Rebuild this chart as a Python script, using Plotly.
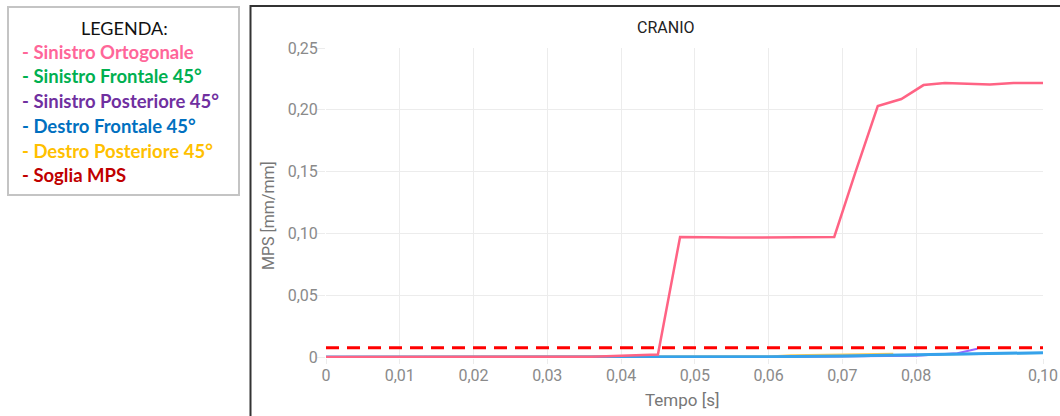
import plotly.graph_objects as go

# ---- data ---------------------------------------------------------------
t_sin_ortogonale = [0, 0.01, 0.02, 0.03, 0.036, 0.045, 0.048, 0.055, 0.062, 0.0689,
                    0.0718, 0.0748, 0.078, 0.081, 0.0839, 0.090, 0.0932, 0.0972]
mps_sin_ortogonale = [0, 0, 0, 0, 0.0003, 0.002, 0.0971, 0.0966, 0.0968, 0.0971,
                      0.150, 0.203, 0.2087, 0.220, 0.2217, 0.2205, 0.2217, 0.2217]

t_sin_frontale = [0, 0.02, 0.04, 0.06, 0.07, 0.08, 0.09, 0.0972]
mps_sin_frontale = [0, 0, 0, 0, 0.0005, 0.0015, 0.0028, 0.0033]

t_sin_posteriore = [0, 0.02, 0.04, 0.06, 0.08, 0.0856, 0.0883]
mps_sin_posteriore = [0, 0, 0, 0, 0.001, 0.003, 0.0067]

t_des_frontale = [0, 0.02, 0.04, 0.06, 0.07, 0.08, 0.09, 0.0972]
mps_des_frontale = [0, 0, 0, 0.0002, 0.0008, 0.0018, 0.003, 0.0035]

t_des_posteriore = [0, 0.02, 0.04, 0.06, 0.063, 0.07, 0.0769]
mps_des_posteriore = [0, 0, 0, 0.0005, 0.0015, 0.002, 0.0027]

soglia_mps = 0.0075
t_soglia = [0, 0.0972]

x_tick_vals = [0, 0.01, 0.02, 0.03, 0.04, 0.05, 0.06, 0.07, 0.08, 0.0972]
x_tick_text = ["0", "0,01", "0,02", "0,03", "0,04", "0,05", "0,06", "0,07", "0,08", "0,10"]
y_tick_vals = [0, 0.05, 0.10, 0.15, 0.20, 0.25]
y_tick_text = ["0", "0,05", "0,10", "0,15", "0,20", "0,25"]

legend_title = "LEGENDA:"
legend_items = ["- Sinistro Ortogonale", "- Sinistro Frontale 45°",
                "- Sinistro Posteriore 45°", "- Destro Frontale 45°",
                "- Destro Posteriore 45°", "- Soglia MPS"]
legend_colors = ["#FF6699", "#00B050", "#7030A0", "#0070C0", "#FFC000", "#C00000"]

# ---- page geometry (pixels) --------------------------------------------
W, H = 1060, 416
PL, PR, PT, PB = 326, 1043, 48, 358     # plot area edges
Y_MIN, Y_MAX = -0.0008, 0.25


def px_x(px):
    return (px - PL) / (PR - PL)


def px_y(py):
    return (PB - py) / (PB - PT)


fig = go.Figure()

# drawing order: lower series first so the blue and pink lines sit on top at zero
series = [
    (t_sin_frontale, mps_sin_frontale, "rgba(75,192,192,0.8)", 2, "Sinistro Frontale 45°"),
    (t_des_posteriore, mps_des_posteriore, "rgb(255,205,86)", 2, "Destro Posteriore 45°"),
    (t_sin_posteriore, mps_sin_posteriore, "rgb(153,102,255)", 2, "Sinistro Posteriore 45°"),
    (t_des_frontale, mps_des_frontale, "rgb(54,162,235)", 3, "Destro Frontale 45°"),
    (t_sin_ortogonale, mps_sin_ortogonale, "rgb(255,99,132)", 2.5, "Sinistro Ortogonale"),
]
for xs, ys, col, w, name in series:
    fig.add_trace(go.Scatter(x=xs, y=ys, mode="lines", name=name,
                             line=dict(color=col, width=w)))

fig.add_trace(go.Scatter(x=t_soglia, y=[soglia_mps] * len(t_soglia), mode="lines",
                         name="Soglia MPS",
                         line=dict(color="rgb(255,0,0)", width=3, dash="13px,8px")))

grid = "#ececec"
tick_font = dict(family="Roboto", size=16, color="#8a8a8a")

fig.update_layout(
    width=W, height=H,
    margin=dict(l=PL, r=W - PR, t=PT, b=H - PB, autoexpand=False),
    paper_bgcolor="white", plot_bgcolor="white",
    showlegend=False,
    separators=",.",
    xaxis=dict(range=[0, x_tick_vals[-1]], tickvals=x_tick_vals, ticktext=x_tick_text,
               showgrid=True, gridcolor=grid, gridwidth=1, zeroline=False,
               ticks="outside", ticklen=5, tickcolor=grid, showline=False,
               automargin=False, ticklabelstandoff=-2, tickfont=tick_font),
    yaxis=dict(range=[Y_MIN, Y_MAX], tickvals=y_tick_vals, ticktext=y_tick_text,
               showgrid=True, gridcolor=grid, gridwidth=1, zeroline=False,
               ticks="outside", ticklen=8, tickcolor=grid, showline=False,
               automargin=False, ticklabelstandoff=-4, tickfont=tick_font),
)

annotations = [
    dict(text="CRANIO", x=px_x(665), y=px_y(27), xref="paper", yref="paper",
         showarrow=False, font=dict(family="Roboto", size=16, color="#222"),
         xanchor="center", yanchor="middle"),
    dict(text="Tempo [s]", x=px_x(682), y=px_y(400), xref="paper", yref="paper",
         showarrow=False, font=dict(family="Roboto", size=17, color="#777"),
         xanchor="center", yanchor="middle"),
    dict(text="MPS [mm/mm]", x=px_x(268), y=px_y(216), xref="paper", yref="paper",
         showarrow=False, textangle=-90, font=dict(family="Roboto", size=16, color="#777"),
         xanchor="center", yanchor="middle"),
    dict(text=legend_title, x=px_x(124), y=px_y(28), xref="paper", yref="paper",
         showarrow=False, font=dict(family="Lato", size=18, color="#111"),
         xanchor="center", yanchor="middle"),
]
legend_rows_y = [52, 76, 101, 126, 151, 175]
for label, col, ry in zip(legend_items, legend_colors, legend_rows_y):
    annotations.append(dict(text="<b>" + label + "</b>", x=px_x(20), y=px_y(ry),
                            xref="paper", yref="paper", showarrow=False,
                            font=dict(family="Lato", size=18.5, color=col),
                            xanchor="left", yanchor="middle"))
fig.update_layout(annotations=annotations)

shapes = [
    # legend box
    dict(type="rect", xref="paper", yref="paper",
         x0=px_x(8), x1=px_x(239), y0=px_y(195), y1=px_y(7),
         line=dict(color="#c4c4c4", width=2), fillcolor="rgba(0,0,0,0)"),
    # chart frame
    dict(type="rect", xref="paper", yref="paper",
         x0=px_x(250.5), x1=px_x(W + 10), y0=px_y(H + 10), y1=px_y(6),
         line=dict(color="#333", width=2), fillcolor="rgba(0,0,0,0)"),
]
fig.update_layout(shapes=shapes)

fig.write_html("out.html")
